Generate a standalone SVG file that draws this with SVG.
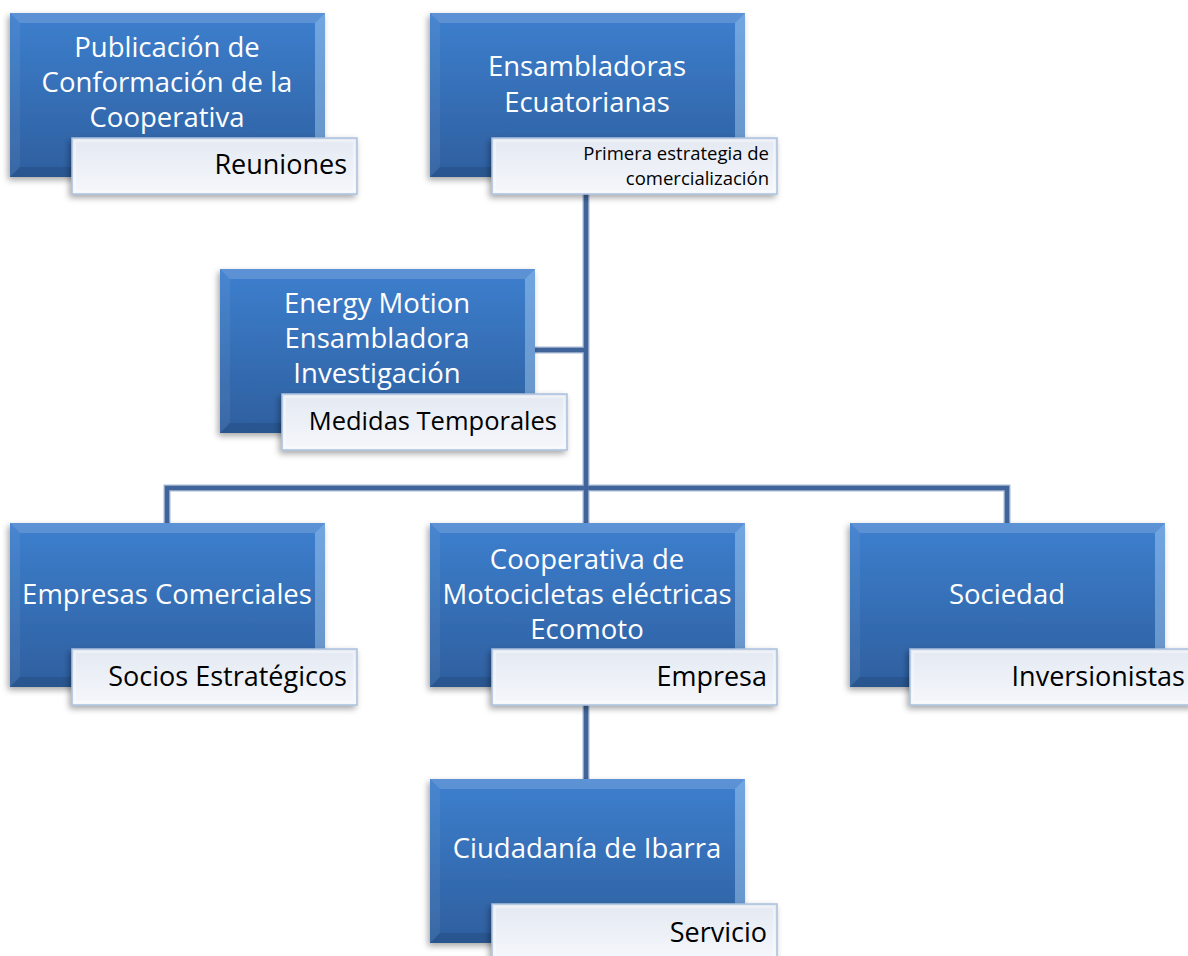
<svg xmlns="http://www.w3.org/2000/svg" xmlns:xlink="http://www.w3.org/1999/xlink" width="1188" height="956" viewBox="0 0 1188 956">
<defs>
<linearGradient id="gBlue" x1="0" y1="0" x2="0" y2="1">
<stop offset="0" stop-color="#3d7fce"/>
<stop offset="1" stop-color="#2e5f9f"/>
</linearGradient>
<linearGradient id="gLab" x1="0" y1="0" x2="0" y2="1">
<stop offset="0" stop-color="#e4e9f2"/>
<stop offset="1" stop-color="#f5f7fb"/>
</linearGradient>
<filter id="sh" x="-10%" y="-10%" width="125%" height="130%">
<feDropShadow dx="-2" dy="3" stdDeviation="3" flood-color="#000" flood-opacity="0.35"/>
</filter>
<g id="bx">
<rect x="0" y="0" width="315" height="164" fill="url(#gBlue)" filter="url(#sh)"/>
<polygon points="0,0 315,0 305,10 10,10" fill="#ffffff" fill-opacity="0.16"/>
<polygon points="0,0 10,10 10,154 0,164" fill="#ffffff" fill-opacity="0.06"/>
<polygon points="315,0 315,164 305,154 305,10" fill="#bfe0ff" fill-opacity="0.4"/>
<polygon points="0,164 315,164 305,154 10,154" fill="#000000" fill-opacity="0.1"/>
</g>
<g id="lb">
<rect x="0" y="0" width="285" height="56" fill="url(#gLab)" stroke="#a9c0de" stroke-width="1.5" filter="url(#sh)"/>
<rect x="3" y="3" width="279" height="50" fill="none" stroke="#ffffff" stroke-opacity="0.7" stroke-width="1"/>
</g>
</defs>
<style>
.m{font-family:"Open Sans","Noto Sans","Liberation Sans",sans-serif;font-size:27.5px;fill:#ffffff;text-anchor:middle}
.l{font-family:"Open Sans","Noto Sans","Liberation Sans",sans-serif;font-size:27px;fill:#000000;text-anchor:end}
.l2{font-size:25.5px}
.s{font-family:"Open Sans","Noto Sans","Liberation Sans",sans-serif;font-size:18.5px;fill:#000000;text-anchor:end}
.cu{fill:none;stroke:#a8bbd6;stroke-width:7}
.c{fill:none;stroke:#41649a;stroke-width:4.5}
</style>
<g id="connectors">
<path class="cu" d="M586,194 V523 M533,350 H586 M167,523 V488 H1007 V523 M586,705 V779"/>
<path class="c" d="M586,194 V523 M533,350 H586 M167,523 V488 H1007 V523 M586,705 V779"/>
</g>
<g id="n1">
<use xlink:href="#bx" x="10" y="13"/>
<text class="m" x="167" y="57">Publicación de</text>
<text class="m" x="167" y="92">Conformación de la</text>
<text class="m" x="167" y="127">Cooperativa</text>
<use xlink:href="#lb" x="72" y="138"/>
<text class="l" x="347" y="174">Reuniones</text>
</g>
<g id="n2">
<use xlink:href="#bx" x="430" y="13"/>
<text class="m" x="587" y="76">Ensambladoras</text>
<text class="m" x="587" y="112">Ecuatorianas</text>
<use xlink:href="#lb" x="492" y="138"/>
<text class="s" x="769" y="160">Primera estrategia de</text>
<text class="s" x="769" y="185">comercialización</text>
</g>
<g id="n3">
<use xlink:href="#bx" x="220" y="269"/>
<text class="m" x="377" y="313">Energy Motion</text>
<text class="m" x="377" y="348">Ensambladora</text>
<text class="m" x="377" y="383">Investigación</text>
<use xlink:href="#lb" x="282" y="394"/>
<text class="l l2" x="557" y="430">Medidas Temporales</text>
</g>
<g id="n4">
<use xlink:href="#bx" x="10" y="523"/>
<text class="m" x="167" y="604">Empresas Comerciales</text>
<use xlink:href="#lb" x="72" y="649"/>
<text class="l" x="347" y="686">Socios Estratégicos</text>
</g>
<g id="n5">
<use xlink:href="#bx" x="430" y="523"/>
<text class="m" x="587" y="569">Cooperativa de</text>
<text class="m" x="587" y="604">Motocicletas eléctricas</text>
<text class="m" x="587" y="639">Ecomoto</text>
<use xlink:href="#lb" x="492" y="649"/>
<text class="l" x="767" y="686">Empresa</text>
</g>
<g id="n6">
<use xlink:href="#bx" x="850" y="523"/>
<text class="m" x="1007" y="604">Sociedad</text>
<use xlink:href="#lb" x="910" y="649"/>
<text class="l" x="1185" y="686">Inversionistas</text>
</g>
<g id="n7">
<use xlink:href="#bx" x="430" y="779"/>
<text class="m" x="587" y="858">Ciudadanía de Ibarra</text>
<use xlink:href="#lb" x="492" y="904"/>
<text class="l" x="767" y="942">Servicio</text>
</g>
</svg>
